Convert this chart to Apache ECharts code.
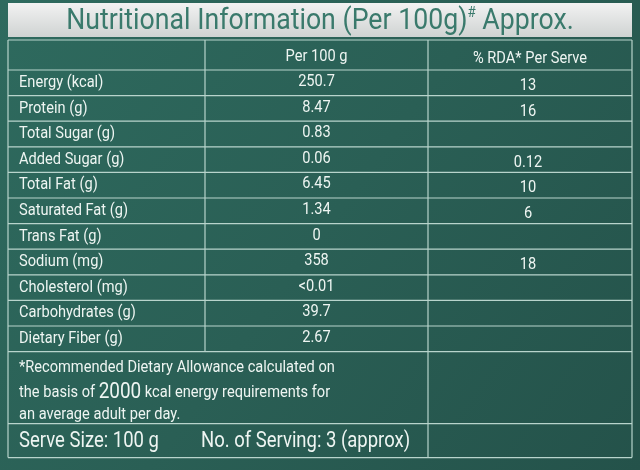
<!DOCTYPE html>
<html><head><meta charset="utf-8">
<script src="https://cdn.jsdelivr.net/npm/echarts@6/dist/echarts.min.js"></script>
<style>html,body{margin:0;padding:0;}#main{width:640px;height:470px;}</style>
</head><body><div id="main"></div>
<script>
var nutrients = ['Energy (kcal)', 'Protein (g)', 'Total Sugar (g)', 'Added Sugar (g)', 'Total Fat (g)', 'Saturated Fat (g)', 'Trans Fat (g)', 'Sodium (mg)', 'Cholesterol (mg)', 'Carbohydrates (g)', 'Dietary Fiber (g)'];
var per100g = ['250.7', '8.47', '0.83', '0.06', '6.45', '1.34', '0', '358', '<0.01', '39.7', '2.67'];
var rda = ['13', '16', '', '0.12', '10', '6', '', '18', '', '', ''];
var headers = ['Per 100 g', '% RDA* Per Serve'];

var FONT = 'Roboto, sans-serif';
var LINE = '#b8d4cc';
var SX = 0.86;   // squeeze to look like the condensed face
var X0 = 8, X1 = 205, X2 = 428, X3 = 632;
var TOP = 40, HEAD_H = 30, ROW_H = 25.6;

var g = [];
function line(x1, y1, x2, y2, w) {
    g.push({ type: 'line', shape: { x1: x1, y1: y1, x2: x2, y2: y2 }, style: { stroke: LINE, lineWidth: w || 1.2 } });
}
function text(str, x, y, align, size, sx) {
    g.push({ type: 'text', x: x, y: y, scaleX: sx || SX, style: { text: str, font: (size || 17) + 'px ' + FONT, fill: '#eef5f2', align: align || 'left', verticalAlign: 'middle' } });
}

// title band
g.push({ type: 'rect', shape: { x: X0, y: 3, width: X3 - X0, height: 34 }, style: { fill: { type: 'linear', x: 0, y: 0, x2: 0, y2: 1, colorStops: [{ offset: 0, color: '#f2f2f2' }, { offset: 1, color: '#cfd3d2' }] } } });
g.push({ type: 'text', x: 320, y: 21, scaleX: 0.89, style: { rich: { t: { font: '30px ' + FONT, fill: '#3a7a6c' }, s: { font: '15px ' + FONT, fill: '#3a7a6c', verticalAlign: 'top', padding: [0, 0, 14, 0] } }, text: '{t|Nutritional Information (Per 100g)}{s|#}{t| Approx.}', align: 'center', verticalAlign: 'middle' } });

var yEnd = TOP + HEAD_H + ROW_H * nutrients.length;
var yFoot = yEnd + 72, yBottom = yFoot + 34;

// headers
text(headers[0], (X1 + X2) / 2, TOP + 17, 'center');
text(headers[1], (X2 + X3) / 2, TOP + 19, 'center');
line(X0, TOP + HEAD_H, X3, TOP + HEAD_H);

nutrients.forEach(function (n, i) {
    var yc = TOP + HEAD_H + ROW_H * i + ROW_H / 2;
    text(n, X0 + 11, yc);
    text(per100g[i], (X1 + X2) / 2, yc - 1, 'center');
    if (rda[i]) text(rda[i], (X2 + X3) / 2 - 2, yc + 3, 'center');
    line(X0, TOP + HEAD_H + ROW_H * (i + 1), X3, TOP + HEAD_H + ROW_H * (i + 1));
});

text('*Recommended Dietary Allowance calculated on', X0 + 11, yEnd + 16);
g.push({ type: 'text', x: X0 + 11, y: yEnd + 41, scaleX: SX, style: { rich: { a: { font: '17px ' + FONT, fill: '#eef5f2' }, b: { font: '22px ' + FONT, fill: '#eef5f2' } }, text: '{a|the basis of }{b|2000}{a| kcal energy requirements for}', verticalAlign: 'middle' } });
text('an average adult per day.', X0 + 11, yEnd + 63);
line(X0, yFoot, X3, yFoot);
text('Serve Size: 100 g', X0 + 11, yFoot + 18, 'left', 22, 0.84);
text('No. of Serving: 3 (approx)', 201, yFoot + 18, 'left', 22, 0.84);

// outer and column lines
line(X0, TOP, X0, yBottom); line(X3, TOP, X3, yBottom); line(X0, yBottom, X3, yBottom); line(X0, TOP, X3, TOP);
line(X1, TOP, X1, yEnd);
line(X2, TOP, X2, yBottom);

var chart = echarts.init(document.getElementById('main'));
chart.setOption({
    backgroundColor: { type: 'linear', x: 0, y: 0, x2: 1, y2: 1, colorStops: [{ offset: 0, color: '#2e6a5e' }, { offset: 0.5, color: '#2a5f55' }, { offset: 1, color: '#24524a' }] },
    graphic: g
});
</script></body></html>
